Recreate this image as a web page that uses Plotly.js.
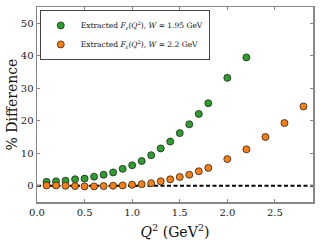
<!DOCTYPE html>
<html>
<head>
<meta charset="utf-8">
<script src="https://cdn.plot.ly/plotly-3.0.1.min.js"></script>
<style>html,body{margin:0;padding:0;background:#fff;}#chart{width:320px;height:240px;}</style>
</head>
<body>
<div id="chart"></div>
<script>
var greenQ2 = [0.1,0.2,0.3,0.4,0.5,0.6,0.7,0.8,0.9,1.0,1.1,1.2,1.3,1.4,1.5,1.6,1.7,1.8,2.0,2.2];
var greenDiff = [1.2,1.35,1.55,2.0,2.2,2.8,3.4,4.1,5.2,6.3,7.6,9.4,11.5,13.6,16.2,18.9,22.1,25.4,33.2,39.5];
var orangeQ2 = [0.1,0.2,0.3,0.4,0.5,0.6,0.7,0.8,0.9,1.0,1.1,1.2,1.3,1.4,1.5,1.6,1.7,1.8,2.0,2.2,2.4,2.6,2.8];
var orangeDiff = [0.1,0.1,0.0,-0.1,-0.2,-0.2,-0.1,0.0,0.1,0.3,0.5,0.8,1.36,1.98,2.7,3.4,4.45,5.5,8.2,11.2,15.0,19.3,24.4];
var refLineX = [0, 2.9];
var refLineY = [0, 0];
var seriesNames = [
  'Extracted <i>F</i><sub><i>ε</i></sub>(<i>Q</i><sup>2</sup>), <i>W</i> = 1.95 GeV',
  'Extracted <i>F</i><sub><i>ε</i></sub>(<i>Q</i><sup>2</sup>), <i>W</i> = 2.2 GeV'
];
var xTickVals = [0, 0.5, 1.0, 1.5, 2.0, 2.5];
var xTickText = ['0.0','0.5','1.0','1.5','2.0','2.5'];
var yTickVals = [0, 10, 20, 30, 40, 50];

var serif = 'DejaVu Serif, serif';
var traces = [
  {x: refLineX, y: refLineY, mode: 'lines', showlegend: false, hoverinfo: 'skip',
   line: {color: '#000', width: 1.8, dash: '4px,2.5px'}},
  {x: greenQ2, y: greenDiff, mode: 'markers', name: seriesNames[0],
   marker: {color: '#2ca02c', size: 7, line: {color: '#222', width: 0.8}}},
  {x: orangeQ2, y: orangeDiff, mode: 'markers', name: seriesNames[1],
   marker: {color: '#ff7f0e', size: 7, line: {color: '#222', width: 0.8}}}
];
var layout = {
  width: 320, height: 240,
  margin: {l: 37, r: 7, t: 7, b: 38},
  paper_bgcolor: '#fff', plot_bgcolor: '#fff',
  font: {family: serif, color: '#222', size: 10},
  xaxis: {range: [0, 2.9], tickvals: xTickVals, ticktext: xTickText,
    showgrid: false, zeroline: false, showline: true, linecolor: '#888', linewidth: 1.5,
    mirror: 'ticks', ticks: 'inside', ticklen: 3, tickcolor: '#888',
    tickfont: {family: serif, size: 10, color: '#222'},
    title: {text: '<i>Q</i><sup>2</sup> (GeV<sup>2</sup>)', font: {family: serif, size: 14, color: '#111'}, standoff: 16}},
  yaxis: {range: [-5, 55], tickvals: yTickVals,
    showgrid: false, zeroline: false, showline: true, linecolor: '#888', linewidth: 1.5,
    mirror: 'ticks', ticks: 'inside', ticklen: 3, tickcolor: '#888',
    tickfont: {family: serif, size: 10, color: '#222'},
    title: {text: '% Difference', font: {family: serif, size: 14, color: '#111'}, standoff: 0}},
  legend: {x: 0.01, y: 0.985, xanchor: 'left', yanchor: 'top',
    bgcolor: '#fff', bordercolor: '#444', borderwidth: 1,
    font: {family: serif, size: 7.5, color: '#111'},
    itemwidth: 30, tracegroupgap: 0}
};
Plotly.newPlot('chart', traces, layout, {displayModeBar: false, staticPlot: true});
</script>
</body>
</html>
